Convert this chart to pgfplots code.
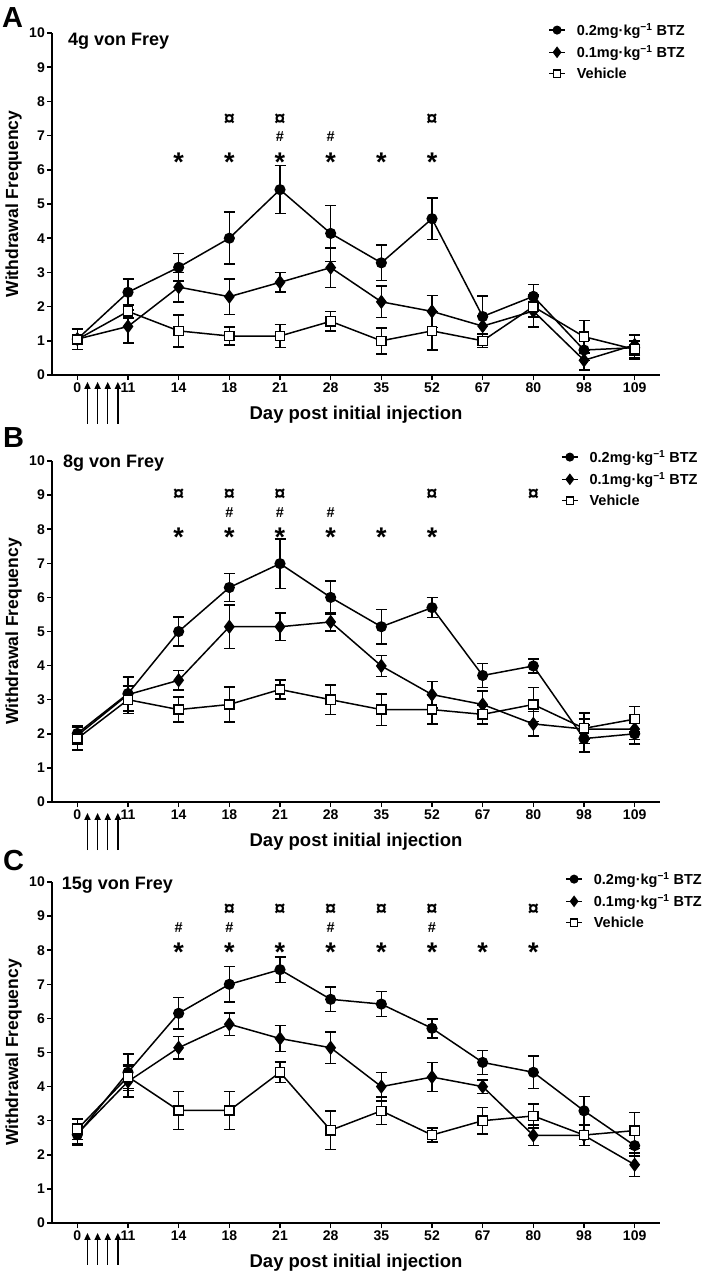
\documentclass[border=0pt]{standalone}
\usepackage{fontspec}
\setmainfont{Liberation Sans}
\usepackage{pgfplots}
\pgfplotsset{compat=1.18}
\usepackage{pgfplotstable}
\usetikzlibrary{arrows.meta}
\newcommand{\fs}[1]{\fontsize{#1}{#1}\selectfont}

% columns: x index, circle (0.2 BTZ) mean/err, diamond (0.1 BTZ) mean/err, vehicle mean/err
\pgfplotstableread{
x c ce d de v ve
0 1.05 0.30 1.05 0.30 1.04 0.30
1 2.42 0.38 1.42 0.48 1.86 0.20
2 3.15 0.40 2.57 0.43 1.29 0.47
3 4.00 0.76 2.29 0.52 1.14 0.26
4 5.42 0.70 2.71 0.29 1.14 0.34
5 4.14 0.82 3.14 0.58 1.57 0.29
6 3.28 0.52 2.14 0.46 1.00 0.38
7 4.57 0.61 1.86 0.47 1.29 0.56
8 1.71 0.60 1.43 0.30 1.00 0.20
9 2.30 0.35 1.87 0.47 2.00 0.30
10 0.73 0.30 0.43 0.28 1.12 0.47
11 0.80 0.35 0.88 0.30 0.75 0.25
}\dataA
\pgfplotstableread{
x c ce d de v ve
0 2.01 0.22 1.95 0.25 1.86 0.33
1 3.18 0.50 3.15 0.50 3.00 0.40
2 5.00 0.43 3.57 0.29 2.71 0.37
3 6.29 0.41 5.14 0.64 2.86 0.51
4 6.99 0.73 5.14 0.40 3.30 0.28
5 6.00 0.48 5.28 0.27 3.00 0.43
6 5.14 0.50 3.99 0.31 2.71 0.46
7 5.70 0.29 3.15 0.39 2.71 0.42
8 3.71 0.35 2.86 0.40 2.57 0.28
9 3.99 0.20 2.29 0.36 2.86 0.50
10 1.86 0.40 2.14 0.30 2.16 0.45
11 2.00 0.30 2.14 0.30 2.43 0.37
}\dataB
\pgfplotstableread{
x c ce d de v ve
0 2.59 0.30 2.62 0.30 2.75 0.30
1 4.42 0.53 4.15 0.45 4.29 0.35
2 6.15 0.46 5.14 0.33 3.30 0.56
3 7.00 0.52 5.83 0.33 3.30 0.56
4 7.43 0.37 5.41 0.38 4.42 0.30
5 6.56 0.36 5.14 0.46 2.72 0.57
6 6.42 0.37 4.00 0.42 3.29 0.40
7 5.71 0.28 4.28 0.42 2.58 0.20
8 4.71 0.35 4.00 0.20 3.00 0.39
9 4.42 0.48 2.57 0.30 3.14 0.35
10 3.29 0.42 2.57 0.30 2.58 0.30
11 2.27 0.30 1.71 0.35 2.71 0.53
}\dataC

\tikzset{inj/.style={-{Triangle[width=6pt,length=7pt]}, line width=1.5pt, black}}

\pgfplotsset{
  panel/.style={
    scale only axis, width=608pt,
    xmin=-0.5, xmax=11.5, ymin=0, ymax=10,
    axis x line*=bottom, axis y line*=left,
    axis line style={line width=1.7pt, -},
    xtick={0,...,11}, xticklabels={0,11,14,18,21,28,35,52,67,80,98,109},
    ytick={0,...,10},
    tick align=outside, major tick length=5pt,
    tick style={line width=1.5pt, black},
    ticklabel style={font=\bfseries\fs{14}},
    yticklabel style={inner sep=2pt},
    xticklabel style={inner sep=3pt},
    /pgf/number format/assume math mode=true,
    xlabel={Day post initial injection}, ylabel={Withdrawal Frequency},
    xlabel style={at={(rel axis cs:0.5,-0.09)}, anchor=north, inner sep=0pt, font=\bfseries\fs{18.5}},
    ylabel style={at={(rel axis cs:-0.0493,0.5)}, anchor=south, inner sep=0pt, font=\bfseries\fs{17.5}},
    clip=false,
    legend cell align=left,
    legend style={draw=none, fill=none, font=\bfseries\fs{14.5}, inner sep=0pt, row sep=4.5pt, column sep=9pt, anchor=north west},
    legend image code/.code={\draw[mark repeat=2,mark phase=2,#1, every mark/.append style={scale=0.78}] plot coordinates {(0pt,0pt) (8pt,0pt) (16pt,0pt)};},
  },
  ser/.style={black, line width=1.5pt,
    error bars/y dir=both, error bars/y explicit,
    error bars/error bar style={line width=1.5pt, solid},
    error bars/error mark options={rotate=90, mark size=5.5pt, line width=1.5pt}},
  circ/.style={ser, mark=*, mark size=4.8pt, mark options={fill=black, solid}},
  diam/.style={ser, mark=diamond*, mark size=6pt, mark options={fill=black, solid}},
  squ/.style={ser, mark=square*, mark size=4.6pt, mark options={fill=white, solid, line width=1.4pt}},
  star/.style={forget plot, draw=none, mark=none, nodes near coords={*}, nodes near coords align=center,
    every node near coord/.append style={font=\bfseries\fs{27}, inner sep=0pt, text=black}},
  hash/.style={forget plot, draw=none, mark=none, nodes near coords={\#}, nodes near coords align=center,
    every node near coord/.append style={font=\bfseries\fs{14.5}, inner sep=0pt, text=black}},
  curr/.style={forget plot, draw=none, mark=none, nodes near coords={¤}, nodes near coords align=center,
    every node near coord/.append style={font=\bfseries\fs{20}, inner sep=0pt, text=black}},
}

\newcommand{\legtext}[1]{#1mg\textperiodcentered kg\textsuperscript{−1} BTZ}

\begin{document}
\begin{tikzpicture}
\path[use as bounding box] (0pt,0pt) rectangle (709pt,-1277pt);

% ---------------- Panel A ----------------
\begin{axis}[panel, at={(52pt,-375pt)}, anchor=south west, height=342pt,
  legend style={at={(0.816,1.035)}}]
\addplot[circ] table[x=x, y=c, y error=ce] {\dataA};
\addlegendentry{\legtext{0.2}}
\addplot[diam] table[x=x, y=d, y error=de] {\dataA};
\addlegendentry{\legtext{0.1}}
\addplot[squ] table[x=x, y=v, y error=ve] {\dataA};
\addlegendentry{Vehicle}
\addplot[star] coordinates {(2,6.23) (3,6.23) (4,6.23) (5,6.23) (6,6.23) (7,6.23)};
\addplot[hash] coordinates {(4,6.98) (5,6.98)};
\addplot[curr] coordinates {(3,7.47) (4,7.47) (7,7.47)};
\node[anchor=west, inner sep=0pt, font=\bfseries\fs{18}] at (rel axis cs:0.026,0.977) {4g von Frey};
\pgfplotsinvokeforeach{0.2,0.4,0.6,0.8}{\draw[inj] (axis cs:#1,-1.43) -- (axis cs:#1,-0.2);}
\end{axis}

% ---------------- Panel B ----------------
\begin{axis}[panel, at={(52pt,-802pt)}, anchor=south west, height=341pt,
  legend style={at={(0.837,1.038)}}]
\addplot[circ] table[x=x, y=c, y error=ce] {\dataB};
\addlegendentry{\legtext{0.2}}
\addplot[diam] table[x=x, y=d, y error=de] {\dataB};
\addlegendentry{\legtext{0.1}}
\addplot[squ] table[x=x, y=v, y error=ve] {\dataB};
\addlegendentry{Vehicle}
\addplot[star] coordinates {(2,7.76) (3,7.76) (4,7.76) (5,7.76) (6,7.76) (7,7.76)};
\addplot[hash] coordinates {(3,8.5) (4,8.5) (5,8.5)};
\addplot[curr] coordinates {(2,9.02) (3,9.02) (4,9.02) (7,9.02) (9,9.02)};
\node[anchor=west, inner sep=0pt, font=\bfseries\fs{18}] at (rel axis cs:0.018,0.993) {8g von Frey};
\pgfplotsinvokeforeach{0.2,0.4,0.6,0.8}{\draw[inj] (axis cs:#1,-1.41) -- (axis cs:#1,-0.32);}
\end{axis}

% ---------------- Panel C ----------------
\begin{axis}[panel, at={(52pt,-1223pt)}, anchor=south west, height=341pt,
  legend style={at={(0.844,1.035)}}]
\addplot[circ] table[x=x, y=c, y error=ce] {\dataC};
\addlegendentry{\legtext{0.2}}
\addplot[diam] table[x=x, y=d, y error=de] {\dataC};
\addlegendentry{\legtext{0.1}}
\addplot[squ] table[x=x, y=v, y error=ve] {\dataC};
\addlegendentry{Vehicle}
\addplot[star] coordinates {(2,7.94) (3,7.94) (4,7.94) (5,7.94) (6,7.94) (7,7.94) (8,7.94) (9,7.94)};
\addplot[hash] coordinates {(2,8.66) (3,8.66) (5,8.66) (7,8.66)};
\addplot[curr] coordinates {(3,9.18) (4,9.18) (5,9.18) (6,9.18) (7,9.18) (9,9.18)};
\node[anchor=west, inner sep=0pt, font=\bfseries\fs{18}] at (rel axis cs:0.016,0.990) {15g von Frey};
\pgfplotsinvokeforeach{0.2,0.4,0.6,0.8}{\draw[inj] (axis cs:#1,-1.23) -- (axis cs:#1,-0.29);}
\end{axis}

% panel letters
\node[anchor=north west, inner sep=0pt, font=\bfseries\fs{29}] at (2pt,-7pt) {A};
\node[anchor=north west, inner sep=0pt, font=\bfseries\fs{29}] at (3pt,-427pt) {B};
\node[anchor=north west, inner sep=0pt, font=\bfseries\fs{29}] at (3pt,-850pt) {C};
\end{tikzpicture}
\end{document}
